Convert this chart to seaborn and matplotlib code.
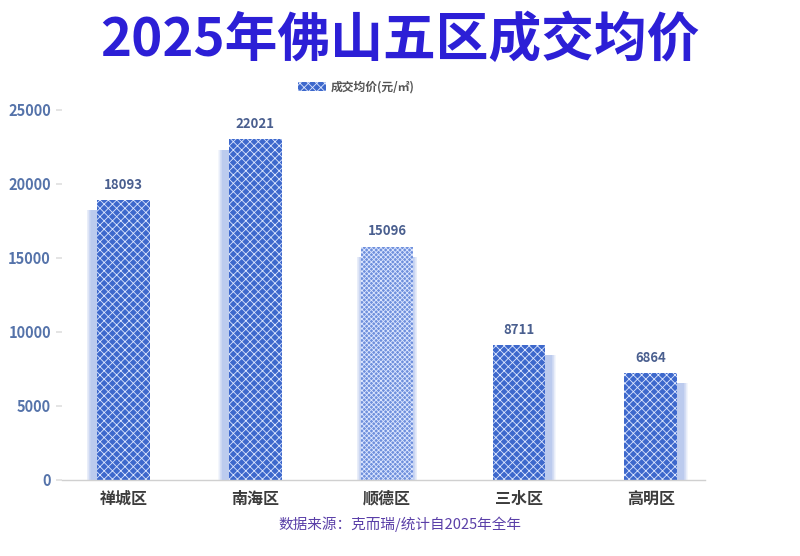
import matplotlib
matplotlib.use("Agg")
import seaborn as sns
import matplotlib.pyplot as plt
from matplotlib.patches import Patch

# 数据
districts = ["禅城区", "南海区", "顺德区", "三水区", "高明区"]
price_labels = [18093, 22021, 15096, 8711, 6864]
# 图中柱子实际高度（按坐标轴读取）
bar_heights = [18900, 23000, 15750, 9120, 7230]
y_ticks = [0, 5000, 10000, 15000, 20000, 25000]

sns.set_theme(style="white")
plt.rcParams['font.family'] = ['Noto Sans CJK SC', 'DejaVu Sans']
plt.rcParams['hatch.linewidth'] = 0.6

fig = plt.figure(figsize=(8, 5.56), dpi=100)
ax = fig.add_axes([0.0775, 0.137, 0.804, 0.666])

colors = ["#3d68cc", "#3d68cc", "#6f90dc", "#3d68cc", "#3d68cc"]
hatches = ["xxxx", "xxxx", "xxxxxxx", "xxxx", "xxxx"]

# 柔和阴影
shadow_dx = [-0.05, -0.05, 0.0, 0.05, 0.05]
for i, h in enumerate(bar_heights):
    for k in range(7):
        w = 0.40 + 0.01 * k
        ax.bar(i + shadow_dx[i], h - 700, width=w, color="#5f82dc", alpha=0.07,
               linewidth=0, zorder=1)

sns.barplot(x=districts, y=bar_heights, ax=ax, width=0.4, zorder=2)
for p, c, ht in zip(ax.patches[-5:], colors, hatches):
    p.set_facecolor(c)
    p.set_edgecolor("#dce6ff")
    p.set_linewidth(0)
    p.set_hatch(ht)

for i, (h, lab) in enumerate(zip(bar_heights, price_labels)):
    ax.text(i, h + 550, str(lab), ha="center", va="bottom", fontsize=9.5,
            fontweight="bold", color="#4a5f8f")

ax.set_ylim(0, 25000)
ax.set_xlim(-0.467, 4.414)
ax.set_yticks(y_ticks)
ax.set_yticklabels([str(t) for t in y_ticks], fontsize=10.5, fontweight="bold", color="#5573aa")
ax.tick_params(axis="y", length=4, color="#e0e0e0", pad=4, left=True)
ax.tick_params(axis="x", length=0, pad=8)
for lbl in ax.get_xticklabels():
    lbl.set_fontsize(11.5)
    lbl.set_fontweight("bold")
    lbl.set_color("#3c3c3c")
ax.set_xlabel("")
ax.set_ylabel("")
for s in ["top", "right", "left"]:
    ax.spines[s].set_visible(False)
ax.spines["bottom"].set_color("#d0d0d0")
ax.spines["bottom"].set_linewidth(1.0)

fig.text(0.5, 0.927, "2025年佛山五区成交均价", ha="center", va="center",
         fontsize=38, fontweight="heavy", color="#2c1fd6")

leg = fig.legend(handles=[Patch(facecolor="#3d68cc", edgecolor="#dce6ff", hatch="xxxx", linewidth=0)],
                 labels=["成交均价(元/㎡)"], loc="center", bbox_to_anchor=(0.445, 0.843),
                 frameon=False, prop={"size": 8.5, "weight": "bold"},
                 handlelength=2.4, handleheight=0.8, handletextpad=0.4)
for t in leg.get_texts():
    t.set_color("#555555")

fig.text(0.5, 0.058, "数据来源：克而瑞/统计自2025年全年", ha="center", va="center",
         fontsize=10.5, color="#5a3fa8")

fig.savefig("out.png", dpi=100, facecolor="white")
